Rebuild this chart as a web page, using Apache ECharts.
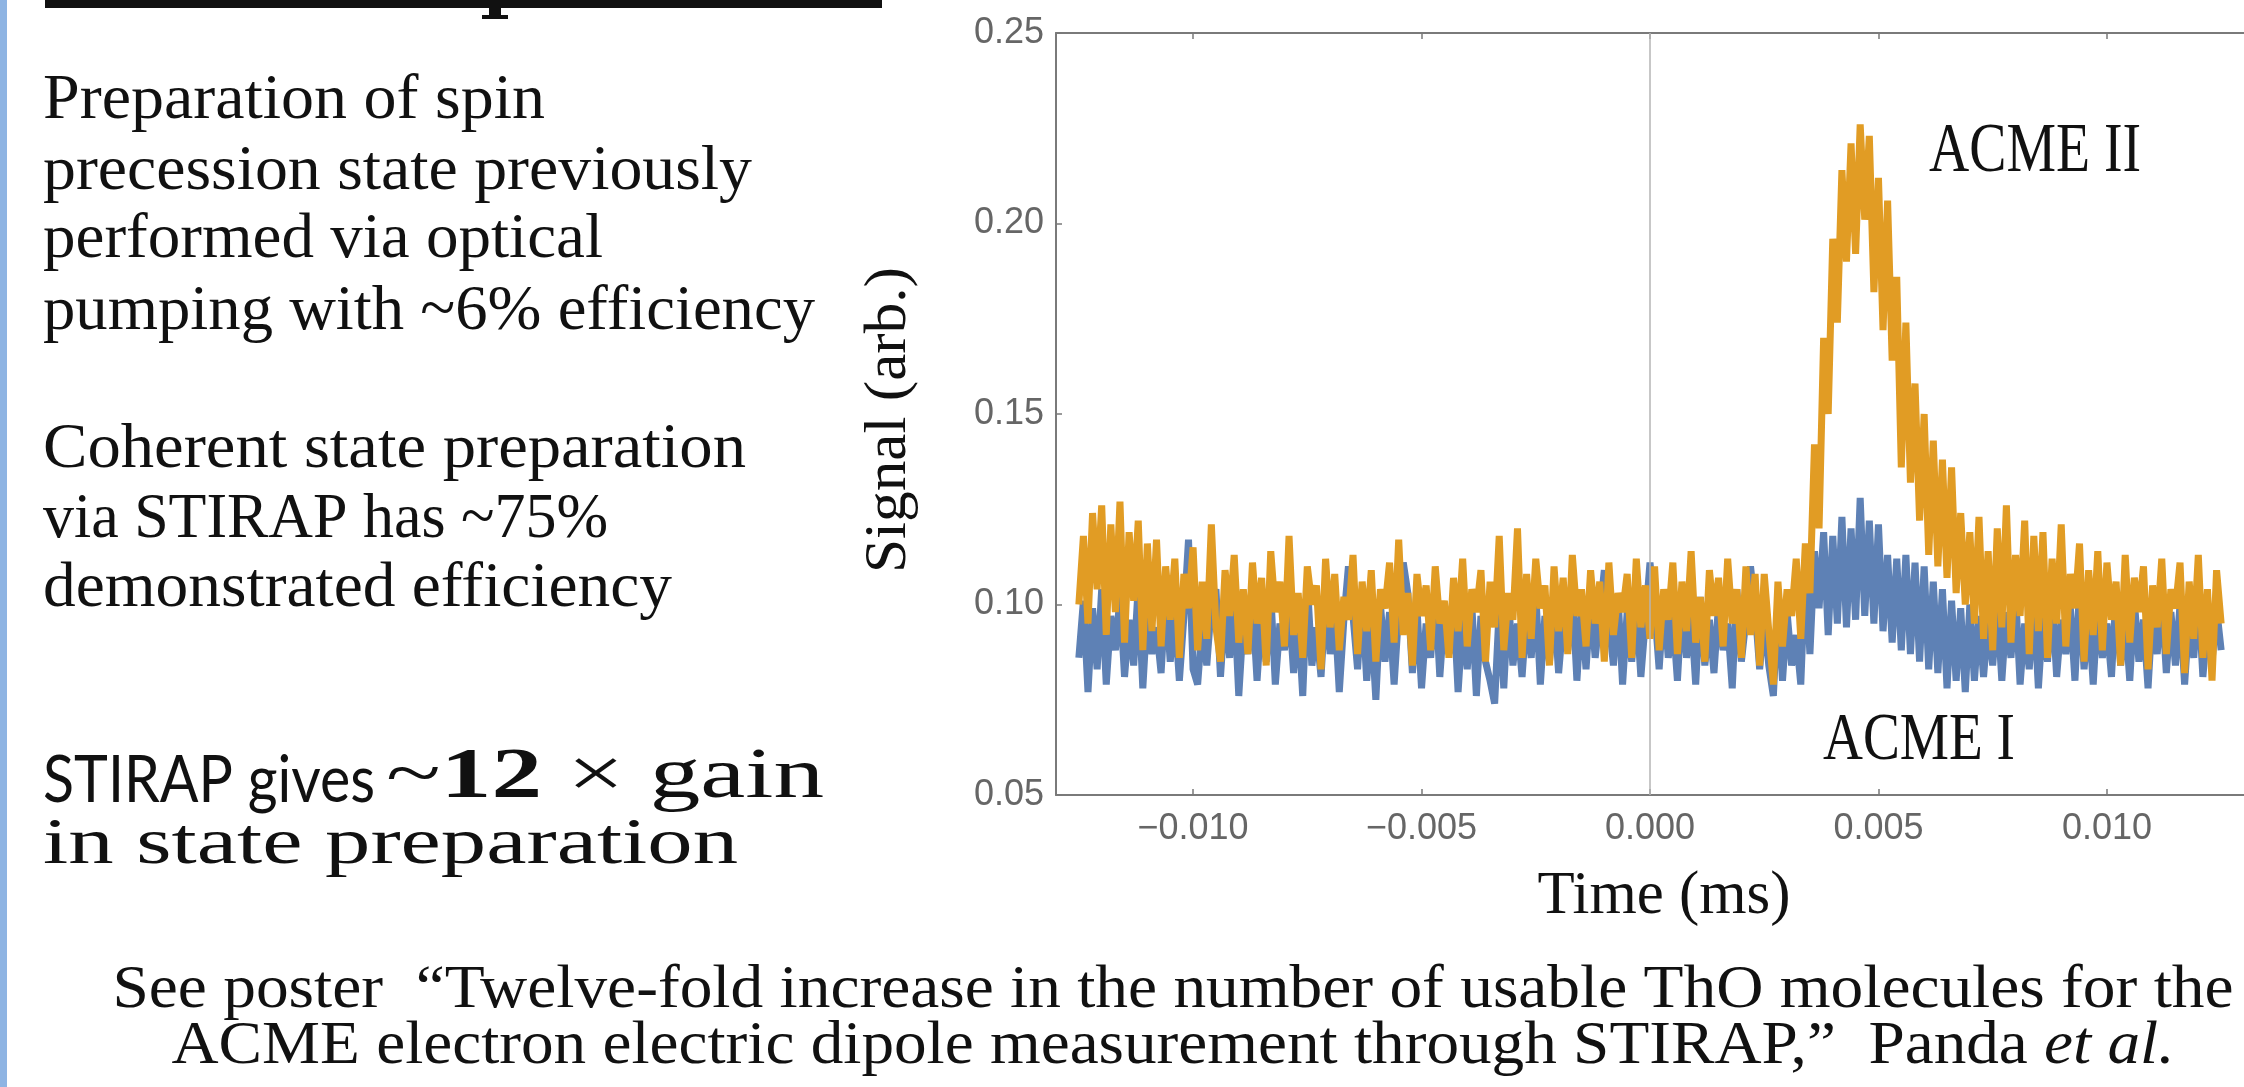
<!DOCTYPE html>
<html>
<head>
<meta charset="utf-8">
<title>ACME I vs ACME II signal</title>
<script src="https://cdn.jsdelivr.net/npm/echarts@6/dist/echarts.min.js"></script>
<style>
  html, body { margin: 0; padding: 0; background: #fff; }
  #main { width: 2244px; height: 1087px; }
</style>
</head>
<body>
<div id="main"></div>
<script>
// sample clock of the trace (ms)
var T0 = -0.0125;
var DT = 0.0001;

// signal values in thousandths (arb.)
// ACME II (orange)
var acme2Pre = [
  100, 118, 95, 124, 104, 126, 92, 121, 98, 127,
  90, 119, 101, 122, 88, 116, 93, 117, 89, 110,
  96, 112, 86, 108, 99, 115, 88, 106, 91, 121,
  94, 85, 109, 97, 113, 90, 104, 87, 111, 95,
  107, 84, 114, 98, 106, 89, 118, 92, 103, 86,
  110, 100, 105, 83, 112, 94, 108, 88, 102, 96,
  113, 87, 106, 93, 109, 85, 104, 99, 111, 90,
  117, 92, 103, 84, 108, 97, 105, 88, 110, 95,
  101, 86, 107, 93, 112, 89, 104, 98, 109, 85,
  106, 94, 118, 88, 103, 96, 120, 86, 108, 91,
  112, 99, 105, 84, 110, 93, 107, 87, 113, 97,
  104, 89, 109, 95, 106, 85, 111, 92, 103, 98,
  108, 86, 112, 94, 105, 91, 110, 88, 104, 96,
  111, 87, 106, 93, 114, 90, 102, 85, 109, 97,
  107, 89, 112, 95, 104, 86, 110, 92, 108, 84
];
var acme2Peak = [
  108, 93, 79, 106, 89, 104, 97, 112, 91, 116,
  103, 142, 120, 170, 150, 196, 174, 214, 190, 221,
  192, 226, 201, 223, 182, 212, 172, 206, 164, 186,
  136, 174, 132, 158, 122, 150, 113, 143, 110, 138,
  107, 136, 103, 124, 100, 119, 95, 123, 91, 114
];
var acme2Post = [
  88, 120, 94, 126, 90, 113, 97, 122, 87, 118,
  93, 119, 86, 112, 95, 121, 89, 108, 99, 116,
  85, 109, 92, 114, 88, 111, 96, 106, 84, 113,
  90, 107, 98, 110, 83, 105, 94, 112, 87, 104,
  99, 111, 82, 106, 91, 113, 86, 104, 80, 109,
  95
];

// ACME I (blue)
var acme1Pre = [
  86, 101, 77, 99, 83, 104, 79, 97, 88, 102,
  81, 96, 84, 105, 78, 99, 87, 94, 82, 103,
  85, 98, 80, 97, 117, 83, 79, 95, 84, 100,
  104, 81, 99, 86, 102, 76, 96, 87, 101, 80,
  98, 85, 103, 79, 95, 88, 100, 82, 97, 76,
  106, 84, 94, 81, 101, 87, 99, 77, 96, 110,
  97, 83, 102, 80, 96, 75, 100, 85, 98, 79,
  98, 111, 103, 82, 99, 78, 95, 86, 104, 81,
  98, 87, 101, 77, 96, 83, 100, 76, 97, 85,
  80, 74, 99, 78, 102, 84, 95, 81, 98, 86,
  103, 79, 97, 85, 100, 82, 96, 88, 104, 80,
  99, 83, 101, 86, 97, 109, 96, 84, 102, 79,
  98, 85, 100, 81, 96, 111, 99, 83, 101, 86,
  97, 80, 101, 86, 98, 79, 102, 84, 96, 82,
  100, 88, 95, 78, 104, 85, 96, 110, 99, 83
];
var acme1Peak = [
  97, 84, 76, 101, 80, 98, 84, 92, 79, 110,
  87, 114, 99, 119, 92, 118, 95, 123, 94, 120,
  96, 128, 97, 122, 95, 121, 93, 113, 90, 112,
  88, 113, 87, 111, 85, 110, 83, 106, 82, 104,
  78, 101, 80, 99, 77, 100, 80, 97, 81, 96
];
var acme1Post = [
  84, 100, 80, 98, 86, 103, 79, 95, 83, 101,
  78, 97, 85, 102, 81, 96, 87, 99, 80, 104,
  83, 98, 79, 100, 86, 95, 81, 103, 84, 97,
  80, 101, 85, 96, 78, 99, 87, 102, 82, 98,
  84, 100, 79, 97, 86, 103, 81, 95, 85, 99,
  88
];

var xTicks = [-0.010, -0.005, 0.000, 0.005, 0.010];

function toPairs(vals) {
  return vals.map(function (v, i) {
    return [T0 + i * DT, v / 1000];
  });
}
var acme1 = toPairs(acme1Pre.concat(acme1Peak, acme1Post));
var acme2 = toPairs(acme2Pre.concat(acme2Peak, acme2Post));

// text width helper, used to squeeze/stretch slide text to the picture
var mctx = document.createElement('canvas').getContext('2d');
function textW(parts) {
  var w = 0;
  parts.forEach(function (p) {
    mctx.font = (p[3] || 'normal') + ' ' + (p[2] || 'normal') + ' ' + p[1] + 'px ' + p[0];
    w += mctx.measureText(p[4]).width;
  });
  return w;
}

var SERIF = '"Liberation Serif", "Times New Roman", serif';
var SANS = '"Liberation Sans", Arial, sans-serif';
var SLIDE_SANS = 'Lato, "Liberation Sans", sans-serif';

function line(str, x, base, size, target, opts) {
  opts = opts || {};
  var fam = opts.family || SERIF;
  var sx = target / textW([[fam, size, opts.weight, null, str]]);
  return {
    type: 'text', x: x, y: base - 0.34 * size, scaleX: sx,
    style: {
      text: str, fontFamily: fam, fontSize: size, fontWeight: opts.weight || 'normal',
      fill: '#111', align: opts.align || 'left', verticalAlign: 'middle'
    }
  };
}

var graphics = [];
// blue slide edge
graphics.push({ type: 'rect', shape: { x: 0, y: 0, width: 7, height: 1087 }, style: { fill: '#8EB4E3' } });
// bottom of the cut-off heading
graphics.push({ type: 'rect', shape: { x: 45, y: 0, width: 837, height: 8 }, style: { fill: '#111' } });
graphics.push({ type: 'rect', shape: { x: 489, y: 0, width: 12, height: 18 }, style: { fill: '#111' } });
graphics.push({ type: 'rect', shape: { x: 482, y: 15, width: 26, height: 4 }, style: { fill: '#111' } });

var bodyLines = [
  ['Preparation of spin', 502, 123],
  ['precession state previously', 709, 194],
  ['performed via optical', 560, 262],
  ['pumping with ~6% efficiency', 772, 334],
  ['Coherent state preparation', 703, 472],
  ['via STIRAP has ~75%', 565, 542],
  ['demonstrated efficiency', 629, 611]
];
bodyLines.forEach(function (l) {
  graphics.push(line(l[0], 43, l[2], 63, l[1]));
});

// "STIRAP gives ~12 x gain"
graphics.push(line('STIRAP gives', 43, 803, 66, 332, { family: SLIDE_SANS }));
(function () {
  var parts = [
    [SERIF, 72, 'normal', null, '~'],
    [SERIF, 72, 'bold', null, '12'],
    [SERIF, 72, 'normal', null, ' \u00d7 gain']
  ];
  var sx = 438 / textW(parts);
  graphics.push({
    type: 'text', x: 386, y: 803 - 0.34 * 72, scaleX: sx,
    style: {
      text: '{b|~}{c|12}{b| \u00d7 gain}',
      fill: '#111', align: 'left', verticalAlign: 'middle',
      rich: {
        b: { fontFamily: SERIF, fontSize: 72, fill: '#111' },
        c: { fontFamily: SERIF, fontSize: 72, fontWeight: 'bold', fill: '#111' }
      }
    }
  });
})();
graphics.push(line('in state preparation', 43, 868, 66, 695));

// caption
graphics.push(line('See poster  \u201cTwelve-fold increase in the number of usable ThO molecules for the', 1173, 1012, 62, 2121, { align: 'center' }));
(function () {
  var a = 'ACME electron electric dipole measurement through STIRAP,\u201d  Panda ';
  var b = 'et al.';
  var sx = 2003 / textW([[SERIF, 62, 'normal', null, a], [SERIF, 62, 'normal', 'italic', b]]);
  graphics.push({
    type: 'text', x: 1173, y: 1068 - 0.34 * 62, scaleX: sx,
    style: {
      text: '{n|' + a + '}{i|' + b + '}',
      fill: '#111', align: 'center', verticalAlign: 'middle',
      rich: {
        n: { fontFamily: SERIF, fontSize: 62, fill: '#111' },
        i: { fontFamily: SERIF, fontSize: 62, fontStyle: 'italic', fill: '#111' }
      }
    }
  });
})();

// chart annotations and axis titles
graphics.push(line('ACME II', 1929, 176, 69, 212));
graphics.push(line('ACME I', 1823, 764, 68, 192));
graphics.push(line('Time (ms)', 1664, 918, 62, 253, { align: 'center' }));
(function () {
  var size = 60;
  var sx = 306 / textW([[SERIF, size, 'normal', null, 'Signal (arb.)']]);
  graphics.push({
    type: 'text', x: 910 - 0.34 * size, y: 420, rotation: Math.PI / 2, scaleX: sx,
    style: {
      text: 'Signal (arb.)', fontFamily: SERIF, fontSize: size,
      fill: '#111', align: 'center', verticalAlign: 'middle'
    }
  });
})();

var myChart = echarts.init(document.getElementById('main'));

var frameColor = '#7a7a7a';
var option = {
  backgroundColor: '#ffffff',
  animation: false,
  grid: { left: 1056, top: 33, width: 1230, height: 762, containLabel: false },
  xAxis: [
    {
      type: 'value', position: 'bottom', min: -0.013, max: 0.013,
      axisLine: { show: true, onZero: false, lineStyle: { color: frameColor, width: 2 } },
      axisTick: { show: true, inside: true, length: 6, customValues: xTicks, lineStyle: { color: frameColor, width: 1.5 } },
      axisLabel: {
        customValues: xTicks, color: '#666', fontSize: 36, fontFamily: SANS, margin: 16,
        formatter: function (v) { return (v < -1e-9 ? '\u2212' : '') + Math.abs(v).toFixed(3); }
      },
      splitLine: { show: false }
    },
    {
      type: 'value', position: 'top', min: -0.013, max: 0.013,
      axisLine: { show: true, onZero: false, lineStyle: { color: frameColor, width: 2 } },
      axisTick: { show: true, inside: true, length: 6, customValues: xTicks, lineStyle: { color: frameColor, width: 1.5 } },
      axisLabel: { show: false },
      splitLine: { show: false }
    }
  ],
  yAxis: {
    type: 'value', min: 0.05, max: 0.25, interval: 0.05,
    axisLine: { show: true, onZero: false, lineStyle: { color: frameColor, width: 2 } },
    axisTick: { show: true, inside: true, length: 6, lineStyle: { color: frameColor, width: 1.5 } },
    axisLabel: {
      color: '#666', fontSize: 36, fontFamily: SANS, margin: 12,
      formatter: function (v) { return v.toFixed(2); }
    },
    splitLine: { show: false }
  },
  series: [
    {
      name: 'ACME I', type: 'line', data: acme1, xAxisIndex: 0,
      showSymbol: false, symbol: 'none', z: 2,
      lineStyle: { color: '#5E81B5', width: 7, join: 'bevel' },
      itemStyle: { color: '#5E81B5' },
      markLine: {
        silent: true, symbol: ['none', 'none'], label: { show: false },
        lineStyle: { color: '#b4b4b4', width: 1.5, type: 'solid' },
        data: [{ xAxis: 0 }]
      }
    },
    {
      name: 'ACME II', type: 'line', data: acme2, xAxisIndex: 0,
      showSymbol: false, symbol: 'none', z: 3,
      lineStyle: { color: '#E19C24', width: 7, join: 'bevel' },
      itemStyle: { color: '#E19C24' }
    }
  ],
  graphic: graphics
};

myChart.setOption(option);
window.addEventListener('resize', function () {
  myChart.resize();
});
</script>
</body>
</html>
